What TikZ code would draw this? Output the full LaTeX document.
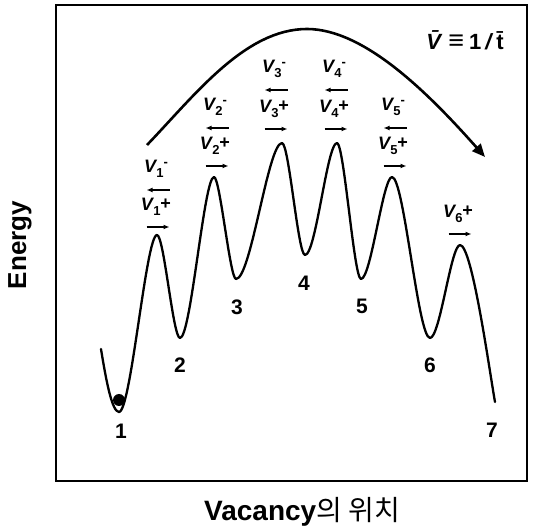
\documentclass[tikz,border=0pt]{standalone}
\usepackage{fontspec}
\setmainfont{Liberation Sans}
\newfontfamily\krfont{Noto Sans CJK KR}
\usetikzlibrary{arrows.meta}
\tikzset{
  curve/.style={line width=2.3pt, line join=round, line cap=round},
  vlab/.style={font=\bfseries\fontsize{18}{18}\selectfont, anchor=base, inner sep=0pt},
  num/.style={font=\bfseries\fontsize{21}{21}\selectfont, inner sep=0pt},
  axlab/.style={font=\bfseries\fontsize{26}{26}\selectfont, inner sep=0pt},
  smallarrow/.style={line width=1.4pt, -{Latex[length=6pt,width=5pt]}},
}
\newcommand\vlb[2]{\textit{V}\kern-1pt\raisebox{-4.5pt}{\fontsize{13}{13}\selectfont #1}#2}
\begin{document}
\begin{tikzpicture}[x=1pt,y=-1pt]
\useasboundingbox (0,0) rectangle (533,526);
% frame
\draw[line width=2pt] (56,5) rectangle (527,481);
% axis labels
\node[axlab, rotate=90] (ylab) at (20,245) {Energy};
\node[axlab, font=\bfseries\fontsize{28}{28}\selectfont, anchor=base] (xlab) at (302,520) {Vacancy{\krfont\mdseries 의 위치}};
% energy landscape
\draw[curve] (101,349) .. controls (106,380) and (112,412) .. (119,412)
  .. controls (131,412) and (146,235) .. (157,235)
  .. controls (164,235) and (173,338) .. (180,338)
  .. controls (191,338) and (204,177) .. (214,177)
  .. controls (220,177) and (230,279) .. (236,279)
  .. controls (251,279) and (268,143) .. (282,143)
  .. controls (289,143) and (298,255) .. (305,255)
  .. controls (316,255) and (327,143) .. (337,143)
  .. controls (344,143) and (354,279) .. (361,279)
  .. controls (371,279) and (383,177) .. (392,177)
  .. controls (404,177) and (418,338) .. (430,338)
  .. controls (440,338) and (451,245) .. (460,245)
  .. controls (472,245) and (489,368) .. (495,402);
% ball
\fill (119,400) circle (6);
% site numbers
\foreach \n/\x/\y in {1/121/431, 2/180/365, 3/237/307, 4/304/283, 5/362/306, 6/430/365, 7/492/430}
  \node[num] (s\n) at (\x,\y) {\n};
% big arc
\coordinate (arcA) at (147,145);
\coordinate (arcT) at (307,29);
\coordinate (arcB) at (485,157);
\draw[line width=2.6pt, -{Triangle[length=13pt,width=11pt]}] (arcA) .. controls (195,95) and (245,29) .. (arcT)
  .. controls (365,29) and (430,95) .. (arcB);
% rate formula
\node[font=\bfseries\fontsize{22}{22}\selectfont, inner sep=0pt] (rate) at (465,40)
  {\textit{\={V}}\hspace{2pt}{\fontsize{27}{27}\selectfont ≡}\hspace{5pt}1\hspace{4pt}\textit{/}\hspace{3pt}\={t}};
% minus labels and arrows
\foreach \n/\x/\y in {1/158/190, 2/217/128, 3/276/90, 4/336/90, 5/395/128} {
  \node[vlab] (m\n) at (\x-2,\y-17) {\vlb{\n}{\raisebox{6pt}{\fontsize{13}{13}\selectfont -}}};
  \coordinate (ma\n) at (\x+11.5,\y);
  \coordinate (mb\n) at (\x-11.5,\y);
  \draw[smallarrow] (ma\n) -- (mb\n);
}
% plus labels and arrows
\foreach \n/\x/\y in {1/158/227, 2/217/166, 3/276/129, 4/336/129, 5/395/166, 6/460/234} {
  \node[vlab] (p\n) at (\x-2,\y-16) {\vlb{\n}{\raisebox{1pt}{+}}};
  \coordinate (pa\n) at (\x-11.5,\y);
  \coordinate (pb\n) at (\x+11.5,\y);
  \draw[smallarrow] (pa\n) -- (pb\n);
}
\end{tikzpicture}
\end{document}
